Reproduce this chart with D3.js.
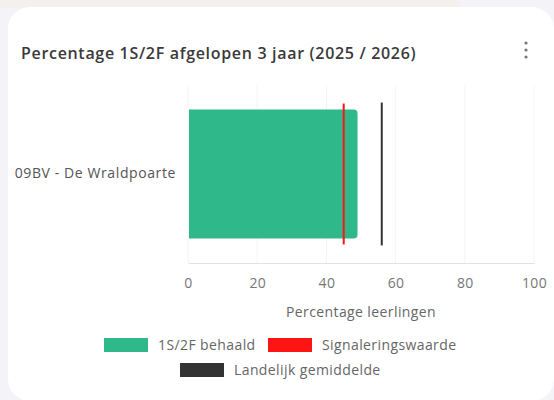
<!DOCTYPE html>
<html>
<head>
<meta charset="utf-8">
<script src="https://cdn.jsdelivr.net/npm/d3@7"></script>
<style>
  html, body { margin: 0; padding: 0; background: #f4f3f8; }
  svg { display: block; font-family: "Open Sans", "Noto Sans", sans-serif; }
</style>
</head>
<body>
<svg id="chart" width="554" height="400"></svg>
<script>
// data
var categories = ["09BV - De Wraldpoarte"];
var behaald = [49];
var signalering = [45];
var landelijk = [56];
var xTicks = [0, 20, 40, 60, 80, 100];
var legendItems = ["1S/2F behaald", "Signaleringswaarde", "Landelijk gemiddelde"];
var legendColors = ["#2fb88a", "#ff1414", "#333333"];

var fontFam = '"Open Sans", "Noto Sans", sans-serif';
var svg = d3.select("#chart");

// achtergrond en kaart
svg.append("rect").attr("x", 0).attr("y", 0).attr("width", 460).attr("height", 8).attr("fill", "#f4f0ee");
svg.append("rect")
    .attr("x", 8).attr("y", 7)
    .attr("width", 546).attr("height", 394)
    .attr("rx", 22)
    .attr("fill", "#ffffff");

// titel
svg.append("text")
    .attr("x", 21).attr("y", 59)
    .attr("font-size", 16)
    .attr("font-weight", 600)
    .attr("letter-spacing", 0.68)
    .attr("fill", "#3a3a3a")
    .text("Percentage 1S/2F afgelopen 3 jaar (2025 / 2026)");

// menu puntjes
[43, 50, 57].forEach(function (cy) {
    svg.append("circle").attr("cx", 526).attr("cy", cy).attr("r", 1.6).attr("fill", "#777");
});

var margin = { top: 85, left: 188 },
    width = 346,
    height = 178;

var x = d3.scaleLinear().domain([0, 100]).range([0, width]);
var y = d3.scaleBand().domain(categories).range([0, height]).padding(0.16);

var g = svg.append("g").attr("transform", "translate(" + margin.left + "," + margin.top + ")");

// rasterlijnen
g.append("g")
    .selectAll("line")
    .data(xTicks)
    .enter().append("line")
    .attr("x1", function (d) { return x(d); })
    .attr("x2", function (d) { return x(d); })
    .attr("y1", 0).attr("y2", height)
    .attr("stroke", "#f4f4f4");

// x-as
var xAxis = g.append("g")
    .attr("transform", "translate(0," + height + ")")
    .call(d3.axisBottom(x).tickValues(xTicks).tickSize(0).tickPadding(15))
    .attr("font-family", fontFam)
    .attr("font-size", 14);
xAxis.select(".domain").attr("stroke", "#e2e2e2");
xAxis.selectAll("text").attr("fill", "#777").attr("letter-spacing", 0.3);

// y-as
var yAxis = g.append("g")
    .call(d3.axisLeft(y).tickSize(0).tickPadding(12))
    .attr("font-family", fontFam)
    .attr("font-size", 14);
yAxis.select(".domain").remove();
yAxis.selectAll("text").attr("fill", "#555").attr("letter-spacing", 0.6);

// balken met afgeronde rechterkant
function barPath(x0, y0, w, h, r) {
    return "M" + x0 + "," + y0 +
        "H" + (x0 + w - r) +
        "Q" + (x0 + w) + "," + y0 + " " + (x0 + w) + "," + (y0 + r) +
        "V" + (y0 + h - r) +
        "Q" + (x0 + w) + "," + (y0 + h) + " " + (x0 + w - r) + "," + (y0 + h) +
        "H" + x0 + "Z";
}

g.selectAll(".bar")
    .data(categories)
    .enter().append("path")
    .attr("class", "bar")
    .attr("fill", legendColors[0])
    .attr("d", function (d, i) { return barPath(x(0) + 1, y(d), x(behaald[i]) - 1, y.bandwidth(), 4); });

// signaleringswaarde
g.selectAll(".sig")
    .data(categories)
    .enter().append("line")
    .attr("class", "sig")
    .attr("x1", function (d, i) { return x(signalering[i]); })
    .attr("x2", function (d, i) { return x(signalering[i]); })
    .attr("y1", function (d) { return y(d) - 6; })
    .attr("y2", function (d) { return y(d) + y.bandwidth() + 6; })
    .attr("stroke", legendColors[1])
    .attr("stroke-width", 2);

// landelijk gemiddelde
g.selectAll(".land")
    .data(categories)
    .enter().append("line")
    .attr("class", "land")
    .attr("x1", function (d, i) { return x(landelijk[i]); })
    .attr("x2", function (d, i) { return x(landelijk[i]); })
    .attr("y1", function (d) { return y(d) - 7; })
    .attr("y2", function (d) { return y(d) + y.bandwidth() + 7; })
    .attr("stroke", legendColors[2])
    .attr("stroke-width", 2);

// as-titel
svg.append("text")
    .attr("x", margin.left + width / 2).attr("y", 312)
    .attr("dy", "0.35em")
    .attr("text-anchor", "middle")
    .attr("font-size", 14)
    .attr("letter-spacing", 0.4)
    .attr("fill", "#666")
    .text("Percentage leerlingen");

// legenda
var legendPos = [[104, 345], [268, 345], [180, 370]];
var legend = svg.selectAll(".legend")
    .data(legendItems)
    .enter().append("g")
    .attr("class", "legend")
    .attr("transform", function (d, i) { return "translate(" + legendPos[i][0] + "," + legendPos[i][1] + ")"; });

legend.append("rect")
    .attr("x", 0).attr("y", -7)
    .attr("width", 44).attr("height", 14)
    .attr("fill", function (d, i) { return legendColors[i]; });

legend.append("text")
    .attr("x", 54).attr("y", 0)
    .attr("dy", "0.35em")
    .attr("font-size", 14)
    .attr("letter-spacing", 0.4)
    .attr("fill", "#666")
    .text(function (d) { return d; });
</script>
</body>
</html>
